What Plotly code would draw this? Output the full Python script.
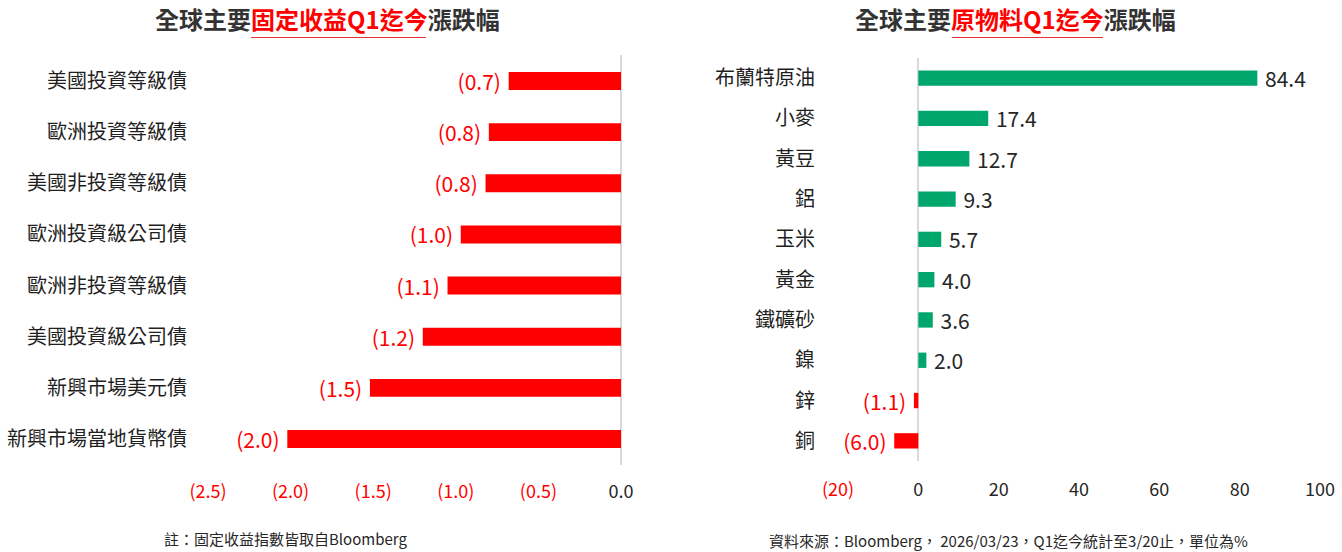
import plotly.graph_objects as go

# ---- data ----
fi_categories = ["美國投資等級債", "歐洲投資等級債", "美國非投資等級債", "歐洲投資級公司債",
                 "歐洲非投資等級債", "美國投資級公司債", "新興市場美元債", "新興市場當地貨幣債"]
fi_values = [-0.68, -0.80, -0.82, -0.97, -1.05, -1.20, -1.52, -2.02]
fi_labels = ["(0.7)", "(0.8)", "(0.8)", "(1.0)", "(1.1)", "(1.2)", "(1.5)", "(2.0)"]
fi_ticks = [-2.5, -2.0, -1.5, -1.0, -0.5, 0.0]
fi_ticktext = ["(2.5)", "(2.0)", "(1.5)", "(1.0)", "(0.5)", "0.0"]

cm_categories = ["布蘭特原油", "小麥", "黃豆", "鋁", "玉米", "黃金", "鐵礦砂", "鎳", "鋅", "銅"]
cm_values = [84.4, 17.4, 12.7, 9.3, 5.7, 4.0, 3.6, 2.0, -1.1, -6.0]
cm_labels = ["84.4", "17.4", "12.7", "9.3", "5.7", "4.0", "3.6", "2.0", "(1.1)", "(6.0)"]
cm_ticks = [-20, 0, 20, 40, 60, 80, 100]
cm_ticktext = ["(20)", "0", "20", "40", "60", "80", "100"]

RED = "#FF0000"
GREEN = "#00A66C"
DARK = "#262626"
FONT = "Noto Sans CJK TC"


def neg_color(v, pos=DARK):
    return RED if v < 0 else pos


def pad_label(v, t):
    # a small gap between the bar end and its label
    return f"{t}\u00a0" if v < 0 else f"\u00a0{t}"


def tick_html(vals, texts):
    return [f"<span style='color:{RED}'>{t}</span>" if v < 0 else t for v, t in zip(vals, texts)]


fig = go.Figure()

fig.add_trace(go.Bar(
    x=fi_values, y=fi_categories, orientation="h",
    marker=dict(color=RED, line=dict(width=0)),
    width=0.35,
    text=[pad_label(v, t) for v, t in zip(fi_values, fi_labels)],
    textposition="outside", cliponaxis=False, constraintext="none",
    textfont=dict(color=RED, size=21, family=FONT),
    xaxis="x", yaxis="y", showlegend=False, hoverinfo="skip",
))

fig.add_trace(go.Bar(
    x=cm_values, y=cm_categories, orientation="h",
    marker=dict(color=[RED if v < 0 else GREEN for v in cm_values], line=dict(width=0)),
    width=0.38,
    text=[pad_label(v, t) for v, t in zip(cm_values, cm_labels)],
    textposition="outside", cliponaxis=False, constraintext="none",
    textfont=dict(color=[neg_color(v) for v in cm_values], size=21, family=FONT),
    xaxis="x2", yaxis="y2", showlegend=False, hoverinfo="skip",
))

W, H = 1342, 552

axis_common = dict(showgrid=False, automargin=False, ticks="", showline=False)

fig.update_layout(
    width=W, height=H,
    margin=dict(l=0, r=0, t=0, b=0),
    paper_bgcolor="white", plot_bgcolor="white",
    font=dict(family=FONT, color=DARK),
    xaxis=dict(domain=[208 / W, 621 / W], range=[-2.5, 0.0], anchor="y",
               tickvals=fi_ticks, ticktext=tick_html(fi_ticks, fi_ticktext),
               tickfont=dict(size=18, color=DARK), ticklabelstandoff=14,
               zeroline=True, zerolinecolor="#D9D9D9", zerolinewidth=1.5,
               **axis_common),
    yaxis=dict(domain=[(H - 464.6) / H, (H - 55.4) / H], anchor="x",
               autorange="reversed", tickfont=dict(size=20, color="#1F1F1F"),
               ticklabelstandoff=20, zeroline=False, **axis_common),
    xaxis2=dict(domain=[838 / W, 1320 / W], range=[-20, 100], anchor="y2",
                tickvals=cm_ticks, ticktext=tick_html(cm_ticks, cm_ticktext),
                tickfont=dict(size=18, color=DARK), ticklabelstandoff=16,
                zeroline=True, zerolinecolor="#D9D9D9", zerolinewidth=1.5,
                **axis_common),
    yaxis2=dict(domain=[(H - 461) / H, (H - 58) / H], anchor="x2",
                autorange="reversed", tickfont=dict(size=20, color="#1F1F1F"),
                ticklabelstandoff=22, zeroline=False, **axis_common),
)

title_font = dict(family=FONT, size=24, color="#333333")
fig.add_annotation(
    x=327 / W, y=(H - 18) / H, xref="paper", yref="paper", showarrow=False,
    text=f"<b>全球主要<span style='color:{RED}'>固定收益Q1迄今</span>漲跌幅</b>",
    font=title_font, xanchor="center", yanchor="middle",
)
fig.add_annotation(
    x=1015 / W, y=(H - 18) / H, xref="paper", yref="paper", showarrow=False,
    text=f"<b>全球主要<span style='color:{RED}'>原物料Q1迄今</span>漲跌幅</b>",
    font=title_font, xanchor="center", yanchor="middle",
)
fig.add_shape(type="line", xref="paper", yref="paper",
              x0=251 / W, x1=426 / W, y0=(H - 37.5) / H, y1=(H - 37.5) / H,
              line=dict(color="#E53030", width=1.2))
fig.add_shape(type="line", xref="paper", yref="paper",
              x0=952 / W, x1=1103 / W, y0=(H - 37.5) / H, y1=(H - 37.5) / H,
              line=dict(color="#E53030", width=1.2))

note_font = dict(family=FONT, size=15, color=DARK)
fig.add_annotation(
    x=162 / W, y=(H - 538) / H, xref="paper", yref="paper", showarrow=False,
    text="註：固定收益指數皆取自Bloomberg", font=note_font,
    xanchor="left", yanchor="middle",
)
fig.add_annotation(
    x=767 / W, y=(H - 540) / H, xref="paper", yref="paper", showarrow=False,
    text="資料來源：Bloomberg， 2026/03/23，Q1迄今統計至3/20止，單位為%", font=note_font,
    xanchor="left", yanchor="middle",
)

fig.write_html(
    "out.html",
    config={"displayModeBar": False},
    post_script="document.body.style.margin='0px';document.body.style.overflow='hidden';",
)
